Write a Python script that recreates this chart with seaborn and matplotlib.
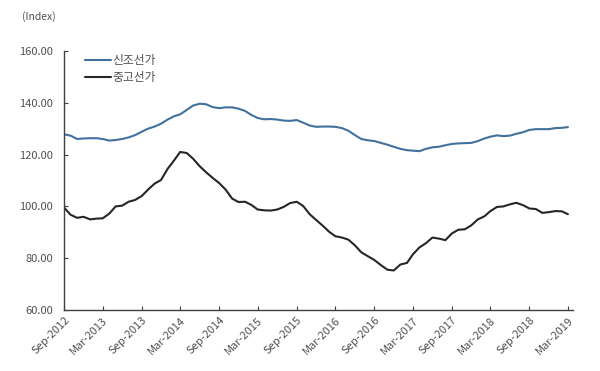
import pandas as pd
import matplotlib
matplotlib.use('Agg')
import matplotlib.pyplot as plt
import matplotlib.dates as mdates
import seaborn as sns

# monthly index, Sep-2012 .. Mar-2019
months = pd.date_range('2012-09-01', periods=79, freq='MS')

newbuild = [127.8, 127.3, 126.0, 126.2, 126.3, 126.3, 126.0, 125.4, 125.6, 126.0,
            126.6, 127.5, 128.8, 130.0, 130.8, 131.9, 133.5, 134.8, 135.5, 137.2,
            138.9, 139.6, 139.4, 138.3, 137.9, 138.2, 138.2, 137.7, 136.8, 135.2,
            134.1, 133.6, 133.7, 133.5, 133.1, 133.0, 133.3, 132.3, 131.2, 130.7,
            130.8, 130.8, 130.7, 130.2, 129.2, 127.5, 126.0, 125.5, 125.2, 124.5,
            123.8, 123.0, 122.2, 121.7, 121.5, 121.3, 122.2, 122.8, 123.0,
            123.6, 124.1, 124.3, 124.4, 124.5, 125.2, 126.2, 126.9, 127.4, 127.1,
            127.3, 128.0, 128.6, 129.5, 129.8, 129.8, 129.8, 130.2, 130.3, 130.6]

secondhand = [99.5, 96.8, 95.6, 96.0, 95.0, 95.3, 95.4, 97.2, 100.0, 100.3,
              101.8, 102.5, 104.0, 106.5, 108.8, 110.2, 114.5, 117.8, 121.0, 120.6,
              118.4, 115.5, 113.2, 111.0, 109.0, 106.5, 103.0, 101.7, 101.8, 100.5,
              98.8, 98.5, 98.4, 98.8, 99.8, 101.3, 101.8, 100.2, 97.0, 94.8,
              92.6, 90.2, 88.5, 88.0, 87.2, 85.0, 82.3, 80.8, 79.3, 77.4,
              75.6, 75.3, 77.6, 78.2, 81.5, 84.2, 85.8, 88.0, 87.6,
              87.0, 89.6, 91.0, 91.2, 92.7, 95.0, 96.2, 98.2, 99.8, 100.0,
              100.8, 101.4, 100.5, 99.2, 99.0, 97.5, 97.8, 98.2, 98.1, 97.0]

series_names = ['신조선가', '중고선가']
series_colors = ['#41719c', '#262626']

df = pd.concat([
    pd.DataFrame({'date': months, 'value': newbuild, 'series': series_names[0]}),
    pd.DataFrame({'date': months, 'value': secondhand, 'series': series_names[1]}),
])

sns.set_style('white')
plt.rcParams['font.family'] = ['Noto Sans CJK KR', 'DejaVu Sans']

fig = plt.figure(figsize=(6, 3.71), dpi=100)
ax = fig.add_axes([0.107, 0.164, 0.848, 0.699])

sns.lineplot(data=df, x='date', y='value', hue='series', hue_order=series_names,
             palette=series_colors, linewidth=1.5, ax=ax)

ax.set_ylim(60, 160)
ax.set_yticks(range(60, 161, 20))
ax.set_yticklabels([f'{v:.2f}' for v in range(60, 161, 20)])
ax.set_xlim(months[0], months[-1] + pd.Timedelta(days=24))
ax.xaxis.set_major_locator(mdates.MonthLocator(bymonth=[3, 9]))
ax.xaxis.set_major_formatter(mdates.DateFormatter('%b-%Y'))
ax.set_xlabel('')
ax.set_ylabel('')

for s in ['top', 'right']:
    ax.spines[s].set_visible(False)
for s in ['left', 'bottom']:
    ax.spines[s].set_color('#404040')
    ax.spines[s].set_linewidth(1.0)

ax.tick_params(axis='both', direction='in', length=3, color='#404040',
               labelsize=8, labelcolor='#505050', left=True, bottom=True)
ax.tick_params(axis='y', pad=8)
for lab in ax.get_xticklabels():
    lab.set_rotation(45)
    lab.set_ha('right')
    lab.set_rotation_mode('anchor')

leg = ax.legend(loc='upper left', bbox_to_anchor=(0.02, 1.03), frameon=False,
                fontsize=8.5, handlelength=2.2, handletextpad=0.1,
                labelspacing=0.4)
for t in leg.get_texts():
    t.set_color('#505050')

fig.text(0.037, 0.955, '(Index)', fontsize=7.5, color='#505050', va='center')

plt.savefig('out.png', dpi=100)
